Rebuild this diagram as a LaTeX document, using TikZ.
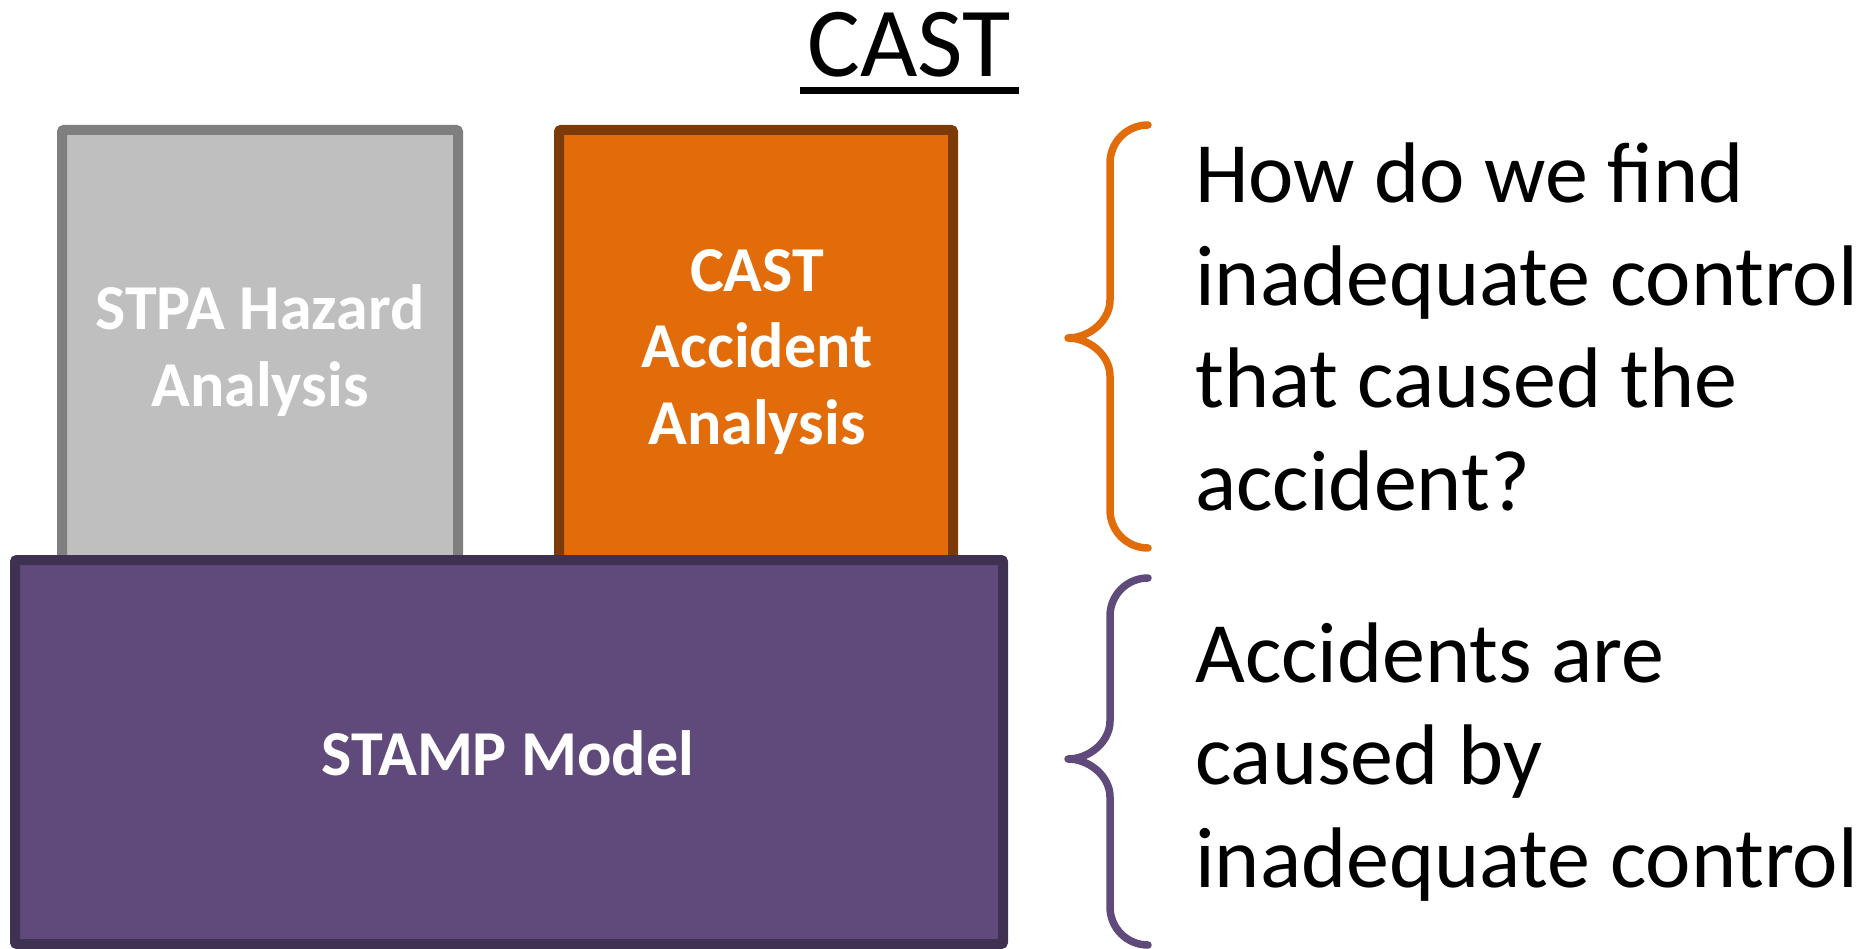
\documentclass[tikz,border=0pt]{standalone}
\usepackage{fontspec}
\setmainfont{Carlito}
\begin{document}
\definecolor{greyfill}{HTML}{BFBFBF}
\definecolor{greyline}{HTML}{7F7F7F}
\definecolor{orangefill}{HTML}{E36C0A}
\definecolor{orangeline}{HTML}{7B3A08}
\definecolor{purplefill}{HTML}{604A7B}
\definecolor{purpleline}{HTML}{3F3151}
\begin{tikzpicture}[x=1pt,y=-1pt,
  block/.style={draw, line width=10pt, rounded corners=2pt, inner sep=0pt, anchor=north west},
  blocklabel/.style={text=white, font=\bfseries\fontsize{64}{76.5}\selectfont, align=center, inner sep=0pt, anchor=base},
  note/.style={text=black, font=\fontsize{86}{102.5}\selectfont, align=left, inner sep=0pt, anchor=base west},
  bracket/.style={line width=7.5pt, line cap=round, line join=round}]
\useasboundingbox (0,0) rectangle (1860,949);
% title
\node[font=\fontsize{99}{110}\selectfont, inner sep=0pt, anchor=base] (title) at (909,77) {CAST};
\draw[line width=6.5pt] (800,90.5) -- (1019,90.5);
% the two analysis blocks standing on the model
\node[block, draw=greyline, fill=greyfill, minimum width=396pt, minimum height=440pt] (stpa) at (57,125) {};
\node[block, draw=orangeline, fill=orangefill, minimum width=394pt, minimum height=440pt] (cast) at (554,125) {};
\node[block, draw=purpleline, fill=purplefill, minimum width=988pt, minimum height=384pt] (stamp) at (10,555) {};
\node[blocklabel] (stpatext) at (260,406) {STPA Hazard\\Analysis};
\node[blocklabel] (casttext) at (757,444) {CAST\\Accident\\Analysis};
\node[blocklabel] (stamptext) at (508,775) {STAMP Model};
% braces
\draw[bracket, draw=orangefill] (1148,125) .. controls (1127,125) and (1110,142) .. (1110,163)
  -- (1110,300) .. controls (1110,321) and (1089,338) .. (1068,338)
  .. controls (1089,338) and (1110,355) .. (1110,376)
  -- (1110,510) .. controls (1110,531) and (1127,548) .. (1148,548);
\draw[bracket, draw=purplefill] (1148,578) .. controls (1127,578) and (1110,595) .. (1110,616)
  -- (1110,721) .. controls (1110,742) and (1089,759) .. (1068,759)
  .. controls (1089,759) and (1110,776) .. (1110,797)
  -- (1110,907) .. controls (1110,928) and (1127,945) .. (1148,945);
\node[note] (question) at (1195,510) {How do we find\\inadequate control\\that caused the\\accident?};
\node[note] (premise) at (1195,887) {Accidents are\\caused by\\inadequate control};
\end{tikzpicture}
\end{document}
